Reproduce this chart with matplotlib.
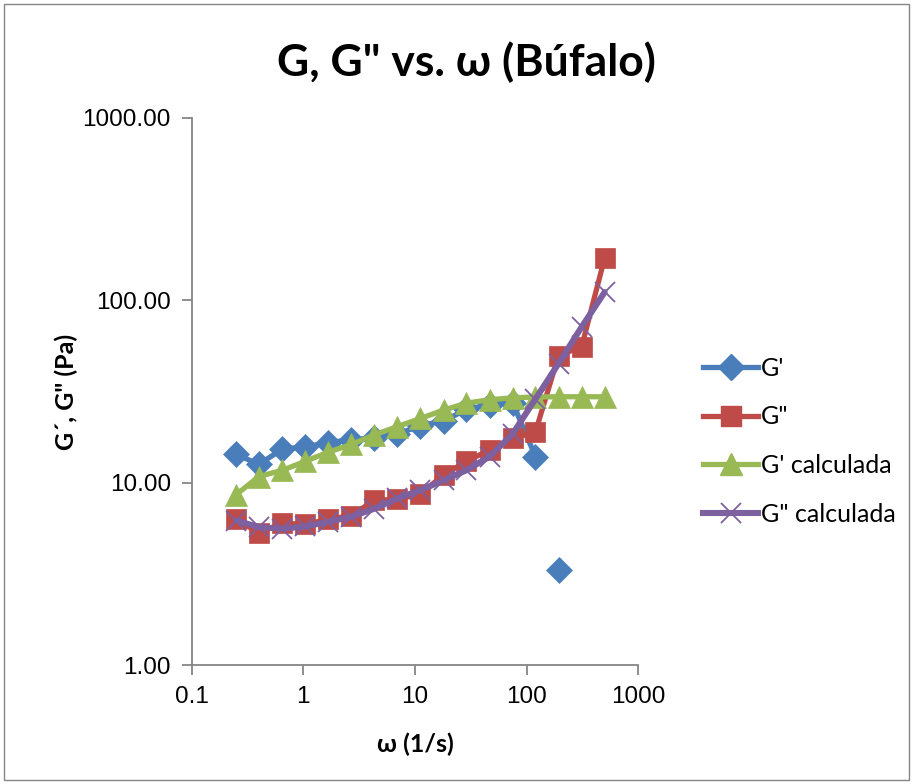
import matplotlib
matplotlib.use("Agg")
import matplotlib.pyplot as plt
from matplotlib.lines import Line2D
from matplotlib.patches import Rectangle
from matplotlib.ticker import FixedLocator, FixedFormatter, NullLocator

# ---- data ----
omega = [0.25, 0.40, 0.65, 1.04, 1.67, 2.69, 4.32, 6.95, 11.2, 18.0,
         28.9, 46.5, 74.8, 120, 193, 311, 500]
g1 = [14.3, 12.6, 15.3, 15.7, 16.6, 17.2, 17.6, 18.5, 20.5, 21.8,
      25.2, 26.8, 27.5, 13.9, 3.3]
g1_connected = 14  # the last G' point stands alone
g2 = [6.3, 5.3, 6.0, 5.9, 6.3, 6.6, 8.0, 8.1, 8.7, 11.0,
      13.1, 15.1, 17.5, 19.0, 49.8, 55.7, 171]
g1_calc = [8.6, 10.8, 11.7, 13.1, 14.7, 16.2, 18.3, 20.3, 22.5, 25.0,
           27.3, 28.5, 29.2, 29.5, 29.6, 29.6, 29.6]
g2_calc = [6.2, 5.7, 5.6, 5.75, 6.1, 6.5, 7.2, 8.2, 9.1, 10.3,
           11.7, 13.9, 18.5, 28.8, 45.0, 71.5, 111]

xticks = [0.1, 1, 10, 100, 1000]
xticklabels = ["0.1", "1", "10", "100", "1000"]
yticks = [1, 10, 100, 1000]
yticklabels = ["1.00", "10.00", "100.00", "1000.00"]

title = 'G, G" vs. ω (Búfalo)'
xlabel = "ω (1/s)"
ylabel = 'G´, G" (Pa)'
labels = ["G'", 'G"', "G' calculada", 'G" calculada']

BLUE = "#4A7EBB"
RED = "#BE4B48"
GREEN = "#98B954"
PURPLE = "#7D60A0"
GRAY = "#868686"

TICKFONT = "Liberation Sans"
TEXTFONT = ["Lato", "DejaVu Sans"]

fig = plt.figure(figsize=(9.13, 7.84), dpi=100)
fig.patches.append(Rectangle((4 / 913, 4 / 784), 905 / 913, 776 / 784,
                             transform=fig.transFigure, fill=False,
                             edgecolor=GRAY, linewidth=1.0))

ax = fig.add_axes([191.7 / 913, 1 - 665 / 784, (638.3 - 191.7) / 913, (665 - 118) / 784])
ax.set_xscale("log")
ax.set_yscale("log")
ax.set_xlim(0.1, 1000)
ax.set_ylim(1, 1000)

lw = 3.8
MS_D, MS_S, MS_T, MS_X = 13, 14, 15.5, 15
# G'
ax.plot(omega[:g1_connected], g1[:g1_connected], color=BLUE, lw=lw,
        solid_joinstyle="round", solid_capstyle="round", zorder=2)
ax.plot(omega[:len(g1)], g1, ls="none", marker="D", ms=MS_D, color=BLUE,
        mec=BLUE, mew=0.5, zorder=2)
# G''
ax.plot(omega, g2, color=RED, lw=lw, marker="s", ms=MS_S, mec=RED, mew=0.5,
        solid_joinstyle="round", solid_capstyle="round", zorder=3)
# G' calc
ax.plot(omega, g1_calc, color=GREEN, lw=lw, marker="^", ms=MS_T, mec=GREEN, mew=0.5,
        solid_joinstyle="round", solid_capstyle="round", zorder=4)
# G'' calc
ax.plot(omega, g2_calc, color=PURPLE, lw=4.4, marker="x", ms=MS_X, mec=PURPLE, mew=1.3,
        solid_joinstyle="round", solid_capstyle="round", zorder=5)

for s in ["top", "right"]:
    ax.spines[s].set_visible(False)
for s in ["left", "bottom"]:
    ax.spines[s].set_color(GRAY)
    ax.spines[s].set_linewidth(1.3)

ax.xaxis.set_major_locator(FixedLocator(xticks))
ax.xaxis.set_major_formatter(FixedFormatter(xticklabels))
ax.yaxis.set_major_locator(FixedLocator(yticks))
ax.yaxis.set_major_formatter(FixedFormatter(yticklabels))
ax.xaxis.set_minor_locator(NullLocator())
ax.yaxis.set_minor_locator(NullLocator())
ax.tick_params(axis="both", which="major", direction="out", length=7, width=1.3,
               color=GRAY, labelsize=17.5, pad=8)
for lab in ax.get_xticklabels() + ax.get_yticklabels():
    lab.set_fontfamily(TICKFONT)

ax.set_xlabel(xlabel, fontsize=18, fontweight="bold", family=TEXTFONT, labelpad=18)
ax.set_ylabel(ylabel, fontsize=18, fontweight="bold", family=TEXTFONT, labelpad=3)

fig.text(466 / 913, 1 - 62 / 784, title, ha="center", va="center",
         fontsize=32, fontweight="bold", family=TEXTFONT)

handles = [
    Line2D([], [], color=BLUE, lw=lw, marker="D", ms=MS_D, mec=BLUE),
    Line2D([], [], color=RED, lw=lw, marker="s", ms=MS_S, mec=RED),
    Line2D([], [], color=GREEN, lw=lw, marker="^", ms=MS_T, mec=GREEN),
    Line2D([], [], color=PURPLE, lw=4.4, marker="x", ms=MS_X, mec=PURPLE, mew=1.3),
]
leg = fig.legend(handles, labels, loc="upper left",
                 bbox_to_anchor=(703 / 913, 1 - 357 / 784),
                 frameon=False, prop={"family": TEXTFONT, "size": 18},
                 handlelength=2.2, handletextpad=0.12, labelspacing=1.02,
                 borderaxespad=0, borderpad=0)

fig.savefig("out.png", dpi=100)
